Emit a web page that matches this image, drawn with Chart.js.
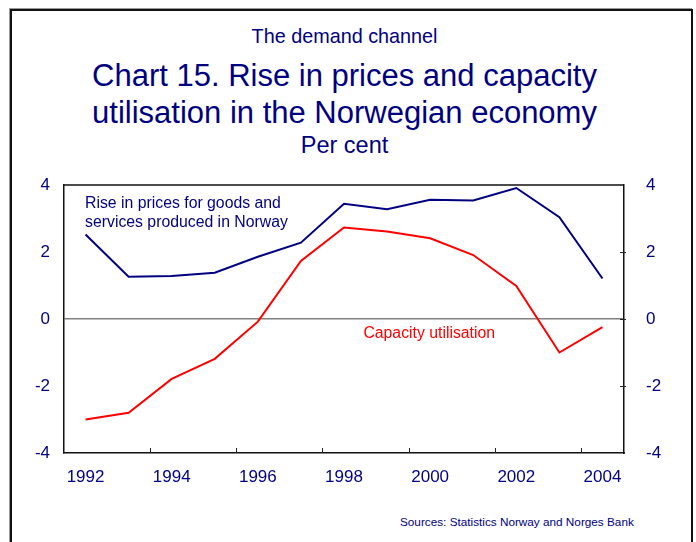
<!DOCTYPE html>
<html>
<head>
<meta charset="utf-8">
<script src="https://cdn.jsdelivr.net/npm/chart.js@4"></script>
<style>
  html, body { margin: 0; padding: 0; background: #fff; overflow: hidden; }
  body { width: 696px; height: 542px; position: relative; font-family: "Liberation Sans", Arial, sans-serif; color: #000080; }
  #frame { position: absolute; left: 10px; top: 9px; width: 679px; height: 560px; border: 2px solid #111; box-shadow: -1px -1px 0 #999; }
  .txt { position: absolute; left: 0; width: 689px; text-align: center; white-space: nowrap; line-height: 1.15; }
  #kicker { top: 25px; font-size: 19.8px; }
  #title { top: 57px; font-size: 31px; line-height: 37px; }
  #unit { top: 132px; font-size: 23.5px; }
  #source { position: absolute; left: 400px; top: 515px; font-size: 11.75px; white-space: nowrap; }
  #wrap { position: absolute; left: 0; top: 0; width: 696px; height: 542px; }
</style>
</head>
<body>
<div id="frame"></div>
<div class="txt" id="kicker">The demand channel</div>
<div class="txt" id="title">Chart 15. Rise in prices and capacity<br>utilisation in the Norwegian economy</div>
<div class="txt" id="unit">Per cent</div>
<div id="source">Sources: Statistics Norway and Norges Bank</div>
<div id="wrap"><canvas id="chart" width="696" height="542"></canvas></div>
<script>
const years = ["1992", "1993", "1994", "1995", "1996", "1997", "1998", "1999", "2000", "2001", "2002", "2003", "2004"];
const pricesRise = [2.52, 1.26, 1.28, 1.38, 1.86, 2.28, 3.44, 3.28, 3.56, 3.54, 3.91, 3.04, 1.21];
const capacityUtil = [-3.0, -2.8, -1.79, -1.19, -0.08, 1.73, 2.73, 2.61, 2.41, 1.91, 0.99, -1.0, -0.24];
const yTicks = [4, 2, 0, -2, -4];

const navy = "#000080";
const red = "#ff0000";
const fontFamily = "'Liberation Sans', Arial, sans-serif";

// top edge of the plot box, short inward tick marks, and the series labels
const extras = {
  id: "extras",
  afterDatasetsDraw(chart) {
    const ctx = chart.ctx;
    const x = chart.scales.x;
    const yr = chart.scales.y2;
    const area = chart.chartArea;
    ctx.save();
    ctx.strokeStyle = "#111";
    ctx.lineWidth = 1.5;
    ctx.beginPath();
    ctx.moveTo(area.left, area.top);
    ctx.lineTo(area.right, area.top);
    ctx.stroke();

    ctx.strokeStyle = "#222";
    ctx.lineWidth = 1;
    ctx.beginPath();
    for (let i = 2; i < years.length; i += 2) {
      const px = Math.round((x.getPixelForValue(i - 1) + x.getPixelForValue(i)) / 2) + 0.5;
      ctx.moveTo(px, area.bottom);
      ctx.lineTo(px, area.bottom - 5);
    }
    yTicks.forEach(function (v) {
      if (v === 4 || v === -4) return;
      const py = Math.round(yr.getPixelForValue(v)) + 0.5;
      ctx.moveTo(area.right - 4, py);
      ctx.lineTo(area.right + 2, py);
    });
    ctx.stroke();

    ctx.font = "15.8px " + fontFamily;
    ctx.textBaseline = "middle";
    ctx.textAlign = "left";
    ctx.fillStyle = navy;
    ctx.fillText("Rise in prices for goods and", x.getPixelForValue(0) - 0.5, chart.scales.y.getPixelForValue(3.45));
    ctx.fillText("services produced in Norway", x.getPixelForValue(0) - 0.5, chart.scales.y.getPixelForValue(2.88));
    ctx.fillStyle = red;
    ctx.fillText("Capacity utilisation", x.getPixelForValue(6.45), chart.scales.y.getPixelForValue(-0.43));
    ctx.restore();
  }
};

new Chart(document.getElementById("chart"), {
  type: "line",
  data: {
    labels: years,
    datasets: [
      {
        label: "Rise in prices for goods and services produced in Norway",
        data: pricesRise,
        borderColor: navy,
        borderWidth: 2,
        pointRadius: 0,
        tension: 0,
        yAxisID: "y"
      },
      {
        label: "Capacity utilisation",
        data: capacityUtil,
        borderColor: red,
        borderWidth: 2,
        pointRadius: 0,
        tension: 0,
        yAxisID: "y"
      }
    ]
  },
  options: {
    responsive: false,
    animation: false,
    layout: { padding: { top: 185, bottom: 49, left: 0, right: 0 } },
    plugins: {
      legend: { display: false },
      tooltip: { enabled: false }
    },
    scales: {
      x: {
        offset: true,
        grid: { display: false },
        border: { display: true, color: "#111", width: 1.5 },
        ticks: {
          color: navy,
          font: { size: 17, family: fontFamily },
          padding: 6,
          maxRotation: 0,
          autoSkip: false,
          callback: function (val, i) { return i % 2 === 0 ? years[i] : ""; }
        },
        afterFit: function (s) { s.height = 40; }
      },
      y: {
        position: "left",
        min: -4,
        max: 4,
        grid: {
          drawTicks: false,
          color: function (c) { return c.tick && c.tick.value === 0 ? "#808080" : "rgba(0,0,0,0)"; },
          lineWidth: 1.5
        },
        border: { display: true, color: "#111", width: 1.5 },
        ticks: {
          stepSize: 2,
          color: navy,
          padding: 14,
          font: { size: 17, family: fontFamily }
        },
        afterFit: function (s) { s.width = 64; }
      },
      y2: {
        position: "right",
        min: -4,
        max: 4,
        grid: { display: false },
        border: { display: true, color: "#111", width: 1.5 },
        ticks: {
          stepSize: 2,
          color: navy,
          padding: 14,
          font: { size: 17, family: fontFamily }
        },
        afterFit: function (s) { s.width = 72; }
      }
    }
  },
  plugins: [extras]
});
</script>
</body>
</html>
